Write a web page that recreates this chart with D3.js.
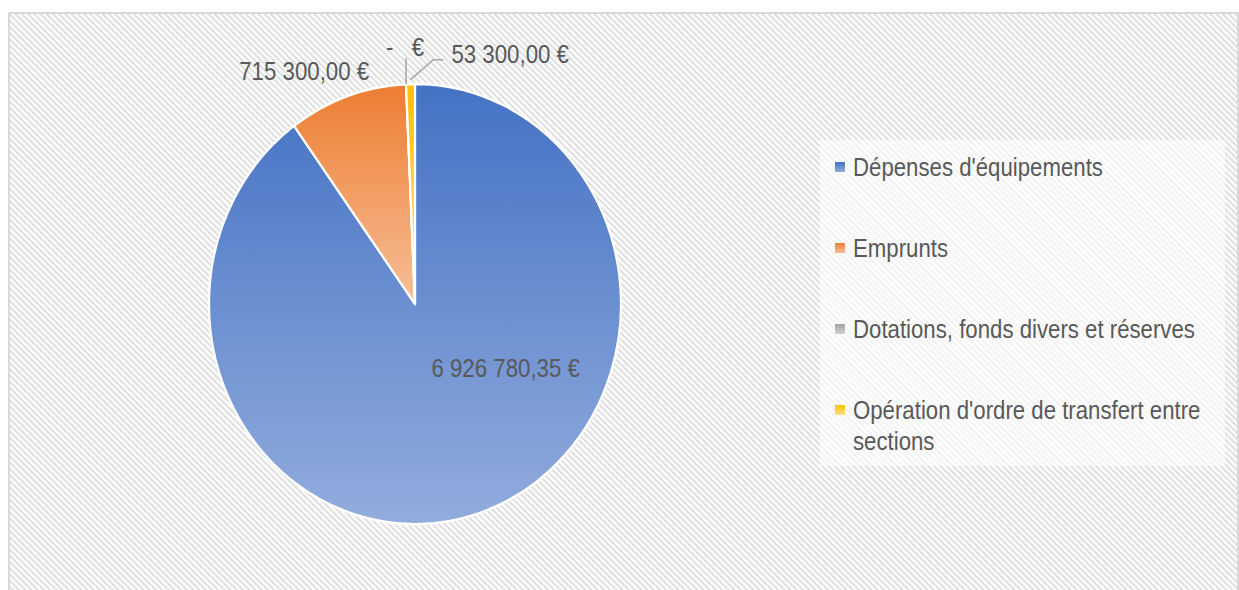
<!DOCTYPE html>
<html>
<head>
<meta charset="utf-8">
<script src="https://cdn.jsdelivr.net/npm/d3@7"></script>
<style>
  body { margin: 0; background: #fff; }
  text { font-family: "Liberation Sans", Arial, sans-serif; fill: #595959; }
</style>
</head>
<body>
<script>
// data
var categories = ["Dépenses d'équipements", "Emprunts", "Dotations, fonds divers et réserves", "Opération d'ordre de transfert entre sections"];
var values = [6926780.35, 715300, 0, 53300];
var valueLabels = ["6 926 780,35 €", "715 300,00 €", "-   €", "53 300,00 €"];
var colors = ["#4472c4", "#ed7d31", "#a5a5a5", "#ffc000"];
var lightColors = ["#92acdd", "#f7bf98", "#cfcfcf", "#ffe08a"];

var W = 1239, H = 590;
var cx = 415, cy = 304, rx = 206, k = 220 / 206; // pie is slightly stretched vertically

var svg = d3.select("body").append("svg")
    .attr("width", W)
    .attr("height", H);

var defs = svg.append("defs");

// diagonal stripe background
var pat = defs.append("pattern")
    .attr("id", "stripes")
    .attr("patternUnits", "userSpaceOnUse")
    .attr("width", 4.4)
    .attr("height", 10)
    .attr("patternTransform", "rotate(-45)");
pat.append("rect").attr("width", 4.4).attr("height", 10).attr("fill", "#ffffff");
pat.append("rect").attr("width", 2.2).attr("height", 10).attr("fill", "#e0e0e0");

// one vertical gradient per slice colour
colors.forEach(function (c, i) {
    var g = defs.append("linearGradient")
        .attr("id", "grad" + i)
        .attr("x1", 0).attr("y1", 0).attr("x2", 0).attr("y2", 1);
    g.append("stop").attr("offset", "0%").attr("stop-color", c);
    g.append("stop").attr("offset", "100%").attr("stop-color", lightColors[i]);
});

// chart area
svg.append("rect")
    .attr("x", 9).attr("y", 13)
    .attr("width", 1229).attr("height", 620)
    .attr("fill", "url(#stripes)")
    .attr("stroke", "#d9d9d9")
    .attr("stroke-width", 2);

// pie
var pie = d3.pie().sort(null).value(function (d) { return d; });
var arcs = pie(values);
var arc = d3.arc().innerRadius(0).outerRadius(rx);

var pieG = svg.append("g")
    .attr("transform", "translate(" + cx + "," + cy + ") scale(1," + k + ")");

pieG.selectAll("path")
    .data(arcs)
    .enter()
    .append("path")
    .attr("d", arc)
    .attr("fill", function (d, i) { return "url(#grad" + i + ")"; })
    .attr("stroke", "#ffffff")
    .attr("stroke-width", 2.2)
    .attr("stroke-linejoin", "round");

// point on the (stretched) pie for an angle and a radius factor
function pt(a, f) {
    return [cx + Math.sin(a) * rx * f, cy - Math.cos(a) * rx * k * f];
}
function mid(d) { return (d.startAngle + d.endAngle) / 2; }

// fit a font size so that a sample string has the wanted width
function fitSize(sample, width, start) {
    var t = svg.append("text").attr("font-size", start).text(sample);
    var w = t.node().getComputedTextLength();
    t.remove();
    return start * width / w;
}
var labelSize = fitSize("715 300,00 €", 130, 20);
var legendSize = fitSize("Dépenses d'équipements", 250, 20);

// leader lines
var gray = arcs[2], yellow = arcs[3];
var g0 = pt(mid(gray), 1.0);
svg.append("line")
    .attr("x1", g0[0]).attr("y1", g0[1])
    .attr("x2", g0[0]).attr("y2", g0[1] - 26)
    .attr("stroke", "#a6a6a6").attr("stroke-width", 1.5);

var y0 = pt(mid(yellow), 1.02);
svg.append("polyline")
    .attr("points", [y0, [y0[0] + 23, y0[1] - 20], [y0[0] + 33, y0[1] - 20]].map(function (p) { return p.join(","); }).join(" "))
    .attr("fill", "none")
    .attr("stroke", "#a6a6a6").attr("stroke-width", 1.5);

// data labels
var o0 = pt(mid(arcs[1]), 1.0);
var labelPos = [
    { p: [cx + 0.44 * rx, cy + 0.29 * rx * k], anchor: "middle" },
    { p: [o0[0] + 22, o0[1] - 25], anchor: "end" },
    { p: [g0[0] - 1, g0[1] - 37], anchor: "middle" },
    { p: [y0[0] + 41, y0[1] - 25], anchor: "start" }
];

svg.selectAll(".dlabel")
    .data(valueLabels)
    .enter()
    .append("text")
    .attr("class", "dlabel")
    .attr("transform", function (d, i) {
        return "translate(" + labelPos[i].p[0] + "," + labelPos[i].p[1] + ") scale(1,1.12)";
    })
    .attr("dy", "0.35em")
    .attr("text-anchor", function (d, i) { return labelPos[i].anchor; })
    .attr("font-size", labelSize)
    .attr("xml:space", "preserve")
    .style("white-space", "pre")
    .text(function (d) { return d; });

// legend
svg.append("rect")
    .attr("x", 820).attr("y", 140)
    .attr("width", 405).attr("height", 326)
    .attr("fill", "#ffffff").attr("opacity", 0.6);

var legendY = d3.scalePoint().domain(categories).range([167, 410]);

var leg = svg.selectAll(".leg")
    .data(categories)
    .enter()
    .append("g")
    .attr("class", "leg")
    .attr("transform", function (d) { return "translate(835," + legendY(d) + ")"; });

leg.append("rect")
    .attr("x", 0).attr("y", -5)
    .attr("width", 10).attr("height", 10)
    .attr("fill", function (d, i) { return "url(#grad" + i + ")"; });

leg.append("text")
    .attr("font-size", legendSize)
    .attr("transform", "scale(1,1.12)")
    .each(function (d) {
        var lines = d === categories[3] ? ["Opération d'ordre de transfert entre", "sections"] : [d];
        var t = d3.select(this);
        lines.forEach(function (l, j) {
            t.append("tspan")
                .attr("x", 18)
                .attr("y", j * 31 / 1.12)
                .attr("dy", "0.35em")
                .text(l);
        });
    });
</script>
</body>
</html>
